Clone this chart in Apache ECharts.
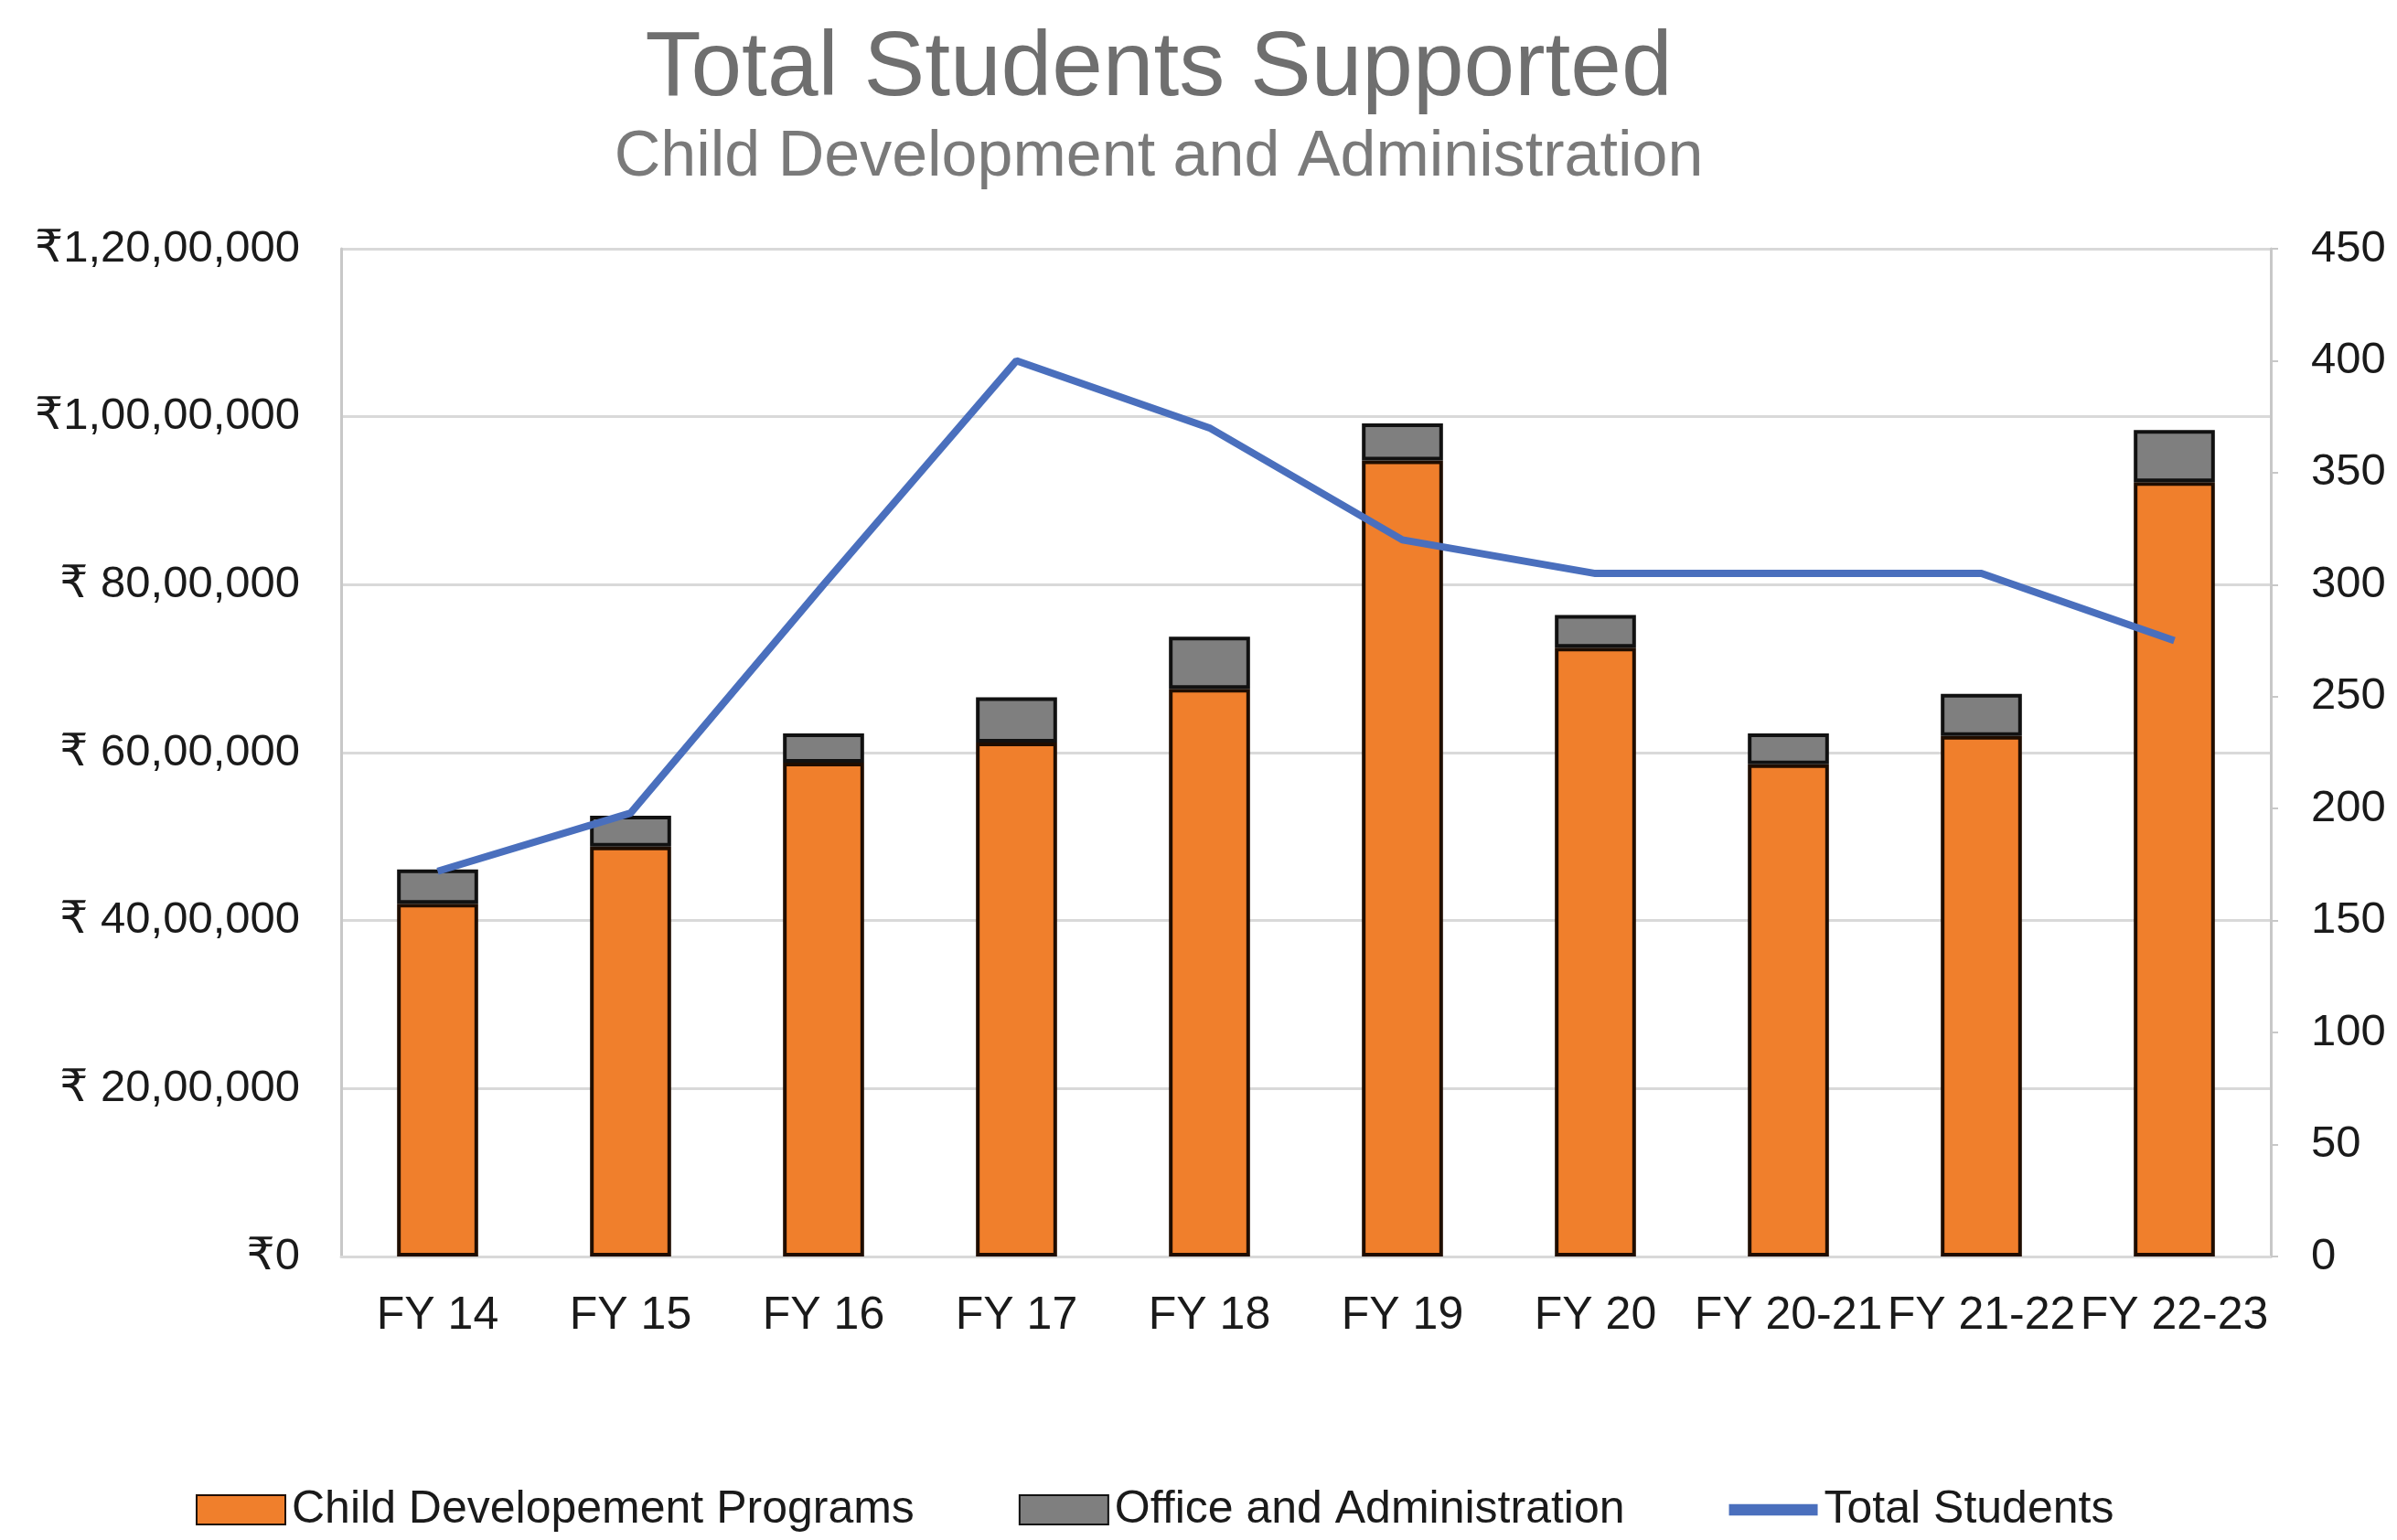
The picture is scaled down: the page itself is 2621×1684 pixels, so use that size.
<!DOCTYPE html>
<html>
<head>
<meta charset="utf-8">
<script src="https://cdn.jsdelivr.net/npm/echarts@6/dist/echarts.min.js"></script>
<style>
html,body{margin:0;padding:0;background:#fff;}
#c{width:2621px;height:1684px;}
</style>
</head>
<body>
<div id="c"></div>
<script>
var categories = ['FY 14','FY 15','FY 16','FY 17','FY 18','FY 19','FY 20','FY 20-21','FY 21-22','FY 22-23'];
var childPrograms = [4200000, 4880000, 5880000, 6120000, 6760000, 9480000, 7250000, 5860000, 6200000, 9220000];
var officeAdmin   = [410000, 370000, 350000, 540000, 620000, 440000, 390000, 370000, 500000, 620000];
var totalStudents = [172, 198, 300, 400, 370, 320, 305, 305, 305, 275];
var leftTickLabels = ['₹0', '₹ 20,00,000', '₹ 40,00,000', '₹ 60,00,000', '₹ 80,00,000', '₹1,00,00,000', '₹1,20,00,000'];
var rightTickLabels = ['0','50','100','150','200','250','300','350','400','450'];

var FONT = '"Liberation Sans", Arial, "DejaVu Sans", sans-serif';
var chart = echarts.init(document.getElementById('c'));
chart.setOption({
  animation: false,
  backgroundColor: '#ffffff',
  graphic: [
    {type:'text', x:1267, y:76, style:{text:'Total Students Supported', font:'100px ' + FONT, fill:'#6f6f6f', textAlign:'center', textVerticalAlign:'middle'}},
    {type:'text', x:1267, y:173, style:{text:'Child Development and Administration', font:'70px ' + FONT, fill:'#7a7a7a', textAlign:'center', textVerticalAlign:'middle'}}
  ],
  grid: {left:373, right:138, top:272, bottom:310, containLabel:false},
  legend: {
    left: 209, top: 1621,
    itemWidth: 97, itemHeight: 32, itemGap: 114,
    textStyle: {fontFamily: FONT, fontSize: 50, color: '#1a1a1a', padding:[0,0,0,2]},
    data: [
      {name:'Child Developement Programs', icon:'rect'},
      {name:'Office and Administration', icon:'rect'},
      {name:'Total Students', icon:'path://M0,0 L100,0 L100,13 L0,13 Z', itemStyle:{color:'#4a6fbd'}}
    ]
  },
  xAxis: {
    type: 'category',
    data: categories,
    axisLine: {show:true, lineStyle:{color:'#d9d9d9', width:3}},
    axisTick: {show:false},
    axisLabel: {interval:0, margin:40, fontFamily:FONT, fontSize:50, color:'#1a1a1a'}
  },
  yAxis: [
    {
      type: 'value', min: 0, max: 12000000, interval: 2000000,
      axisLine: {show:true, lineStyle:{color:'#c8c8c8', width:3}},
      axisTick: {show:false},
      splitLine: {show:true, lineStyle:{color:'#d9d9d9', width:3}},
      axisLabel: {margin:45, fontFamily:FONT, fontSize:49, color:'#1a1a1a',
        formatter: function(v){ return leftTickLabels[Math.round(v/2000000)]; }}
    },
    {
      type: 'value', min: 0, max: 450, interval: 50, position: 'right',
      axisLine: {show:true, lineStyle:{color:'#c8c8c8', width:3}},
      axisTick: {show:true, length:8, lineStyle:{color:'#c8c8c8', width:2}},
      splitLine: {show:false},
      axisLabel: {margin:44, fontFamily:FONT, fontSize:49, color:'#1a1a1a',
        formatter: function(v){ return rightTickLabels[Math.round(v/50)]; }}
    }
  ],
  series: [
    {
      name: 'Child Developement Programs', type: 'bar', stack: 'cost', yAxisIndex: 0,
      data: childPrograms, barWidth: '42%',
      itemStyle: {color:'#f07f2c', borderColor:'#1f0d00', borderWidth:4}
    },
    {
      name: 'Office and Administration', type: 'bar', stack: 'cost', yAxisIndex: 0,
      data: officeAdmin, barWidth: '42%',
      itemStyle: {color:'#7f7f7f', borderColor:'#111111', borderWidth:4}
    },
    {
      name: 'Total Students', type: 'line', yAxisIndex: 1, data: totalStudents,
      symbol: 'none', z: 5,
      lineStyle: {color:'#4a6fbd', width:8},
      itemStyle: {color:'#4a6fbd'}
    }
  ]
});
</script>
</body>
</html>
